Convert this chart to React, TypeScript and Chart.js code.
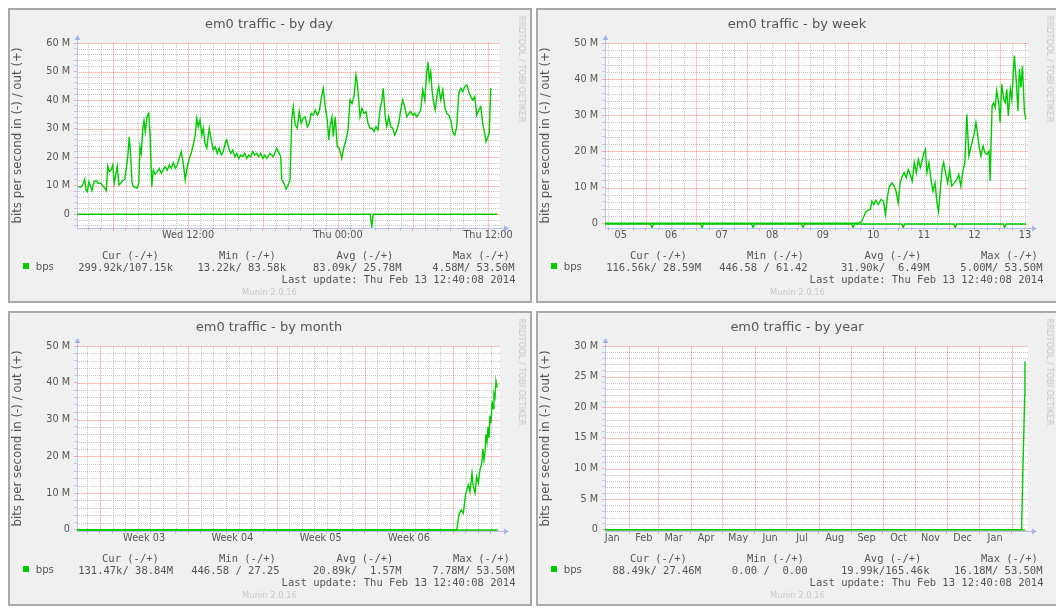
import React, { useEffect, useRef } from 'react';
import { Chart, registerables } from 'chart.js';

Chart.register(...registerables);
Chart.defaults.font.family = '"DejaVu Sans", sans-serif';

type Pt = [number, number];

// ---------------- by day (x = hours since Wed 00:00, y = Mbit/s) ----------------
const dayOut: Pt[] = [
  [3.22, 9.6], [3.42, 9.4], [3.58, 10.2], [3.74, 12.2], [3.84, 8.4], [3.94, 7.8], [4.08, 11.3], [4.22, 9.6],
  [4.32, 8.2], [4.48, 11.3], [4.64, 11.7], [4.82, 10.8], [5.02, 10.8], [5.18, 9.9], [5.34, 9.1], [5.46, 8.2],
  [5.58, 16.8], [5.7, 14.9], [5.84, 15.4], [5.98, 17.2], [6.1, 10.8], [6.24, 14.3], [6.34, 16.8], [6.48, 10.2],
  [6.62, 10.8], [6.78, 11.7], [6.94, 12.2], [7.06, 16], [7.18, 20], [7.3, 27.1], [7.42, 20.1], [7.52, 11.3],
  [7.62, 9.6], [7.78, 9.4], [7.94, 9.1], [8.06, 10.8], [8.16, 23.6], [8.26, 21.3], [8.38, 29.5], [8.48, 32.7],
  [8.58, 28.9], [8.72, 34.1], [8.86, 35.3], [8.96, 28.3], [9.1, 9.6], [9.22, 15.4], [9.38, 14], [9.54, 14.9],
  [9.7, 16], [9.86, 14.3], [10.02, 15.6], [10.18, 16.6], [10.34, 15.4], [10.5, 17.2], [10.66, 16], [10.82, 18],
  [10.98, 16], [11.14, 17.2], [11.3, 19.5], [11.46, 21.9], [11.62, 17.8], [11.78, 11.9], [11.94, 16.6], [12.1, 19.5],
  [12.26, 21.3], [12.38, 23.6], [12.56, 27.1], [12.7, 33.6], [12.82, 30.6], [12.96, 33], [13.1, 27.7], [13.22, 30.1],
  [13.36, 24.8], [13.5, 23.1], [13.7, 30.1], [13.86, 26], [14.02, 22.5], [14.18, 23.6], [14.34, 21.3], [14.5, 23.1],
  [14.66, 20.7], [14.82, 21.9], [14.98, 24.8], [15.1, 26], [15.26, 23.1], [15.42, 21.3], [15.58, 22.5], [15.74, 20.1],
  [15.9, 21.3], [16.06, 19.5], [16.22, 20.7], [16.38, 20.1], [16.54, 21.3], [16.7, 19.5], [16.86, 20.7], [17.02, 20.1],
  [17.18, 21.9], [17.34, 20.7], [17.5, 21.3], [17.66, 20.1], [17.82, 21.3], [17.98, 19.5], [18.14, 20.7], [18.3, 19.5],
  [18.56, 21.3], [18.82, 20.1], [19.1, 23.1], [19.22, 21.9], [19.42, 20.1], [19.5, 11.9], [19.68, 10.8], [19.84, 8.7],
  [20.0, 10.2], [20.16, 11.9], [20.3, 33], [20.42, 37.6], [20.58, 31.2], [20.74, 30.1], [20.9, 35.9], [21.06, 31.8],
  [21.22, 33.6], [21.38, 34.1], [21.54, 30.6], [21.7, 31.8], [21.86, 35.3], [22.02, 34.7], [22.18, 36.5], [22.34, 34.7],
  [22.5, 35.9], [22.66, 40.6], [22.82, 44.1], [22.98, 37.6], [23.14, 33], [23.26, 26], [23.36, 30.6], [23.52, 34.1],
  [23.62, 27.1], [23.78, 34.1], [23.94, 23.6], [24.1, 23.1], [24.3, 19.5], [24.48, 23.6], [24.64, 26], [24.8, 29.5],
  [24.96, 40], [25.12, 38.8], [25.28, 41.2], [25.44, 48.8], [25.54, 45.9], [25.66, 40], [25.76, 34.1], [25.92, 37.1],
  [26.08, 35.3], [26.24, 35.9], [26.4, 31.8], [26.56, 30.1], [26.72, 30.1], [26.88, 28.9], [27.04, 30.6], [27.2, 29.5],
  [27.36, 36.5], [27.52, 40], [27.62, 44.1], [27.78, 34.1], [27.9, 30.6], [28.06, 34.1], [28.22, 30.6], [28.38, 30.1],
  [28.54, 27.7], [28.7, 29.5], [28.86, 31.8], [29.02, 36.5], [29.18, 40], [29.34, 37.6], [29.5, 34.1], [29.66, 35.3],
  [29.82, 35.9], [29.98, 34.7], [30.14, 35.3], [30.3, 34.1], [30.46, 35.3], [30.62, 36.5], [30.78, 43.5], [30.94, 40],
  [31.1, 49.9], [31.2, 53.4], [31.3, 47], [31.42, 49.9], [31.52, 43.5], [31.62, 40], [31.78, 36.5], [31.94, 42.3],
  [32.06, 44.7], [32.22, 40], [32.38, 43.5], [32.54, 37.6], [32.7, 35.3], [32.86, 34.7], [33.02, 33], [33.18, 28.9],
  [33.34, 27.7], [33.5, 30.6], [33.66, 42.3], [33.82, 44.1], [33.98, 42.9], [34.14, 44.7], [34.3, 45.3], [34.46, 42.9],
  [34.62, 41.2], [34.78, 40], [34.94, 41.2], [35.1, 34.7], [35.26, 36.5], [35.42, 37.6], [35.58, 31.8], [35.68, 29.5],
  [35.84, 25.4], [36.0, 27.1], [36.1, 28.3], [36.22, 44.1],
];
const dayIn: Pt[] = [[3.12, -0.1], [26.58, -0.1], [26.7, -4.5], [26.82, -0.1], [36.74, -0.1]];
const dayTickAt = [12, 24, 36];
const dayTickLabels = ['Wed 12:00', 'Thu 00:00', 'Thu 12:00'];
const dayMajorAt = [6, 12, 18, 24, 30, 36];

// ---------------- by week (x = day of Feb 2014) ----------------
const weekOut: Pt[] = [
  [5.19, 0.1], [10.2, 0.1], [10.27, 0.6], [10.34, 3.0], [10.38, 3.6], [10.44, 3.9], [10.47, 6.2], [10.51, 5.3],
  [10.55, 6.5], [10.6, 5.3], [10.65, 6.7], [10.7, 6.2], [10.74, 2.5], [10.78, 7.6], [10.82, 10.4], [10.87, 11.3],
  [10.91, 10.4], [10.95, 9], [10.99, 5.7], [11.03, 11.3], [11.07, 13.1], [11.11, 14.1], [11.15, 12.7], [11.19, 15],
  [11.23, 13.6], [11.27, 11.8], [11.31, 16.9], [11.35, 14.1], [11.39, 17.8], [11.43, 15.5], [11.47, 17.8], [11.5, 19.6],
  [11.53, 20.6], [11.56, 14.1], [11.6, 16.9], [11.64, 12.2], [11.68, 9], [11.72, 11.3], [11.76, 5.7], [11.79, 3.4],
  [11.82, 8.5], [11.86, 15], [11.89, 16.9], [11.93, 14.1], [11.97, 11.3], [12.01, 15], [12.05, 10.4], [12.1, 11.3],
  [12.15, 12.2], [12.19, 13.6], [12.23, 10.4], [12.27, 14.5], [12.31, 16.9], [12.35, 30.3], [12.39, 18.7], [12.45, 22.4],
  [12.5, 25.2], [12.53, 28], [12.56, 25.2], [12.59, 21.5], [12.63, 18.7], [12.67, 21.5], [12.71, 19.6], [12.75, 19.2],
  [12.79, 20.1], [12.81, 11.8], [12.85, 32.6], [12.88, 33.5], [12.91, 32.1], [12.94, 36.8], [12.98, 33.5], [13.01, 28],
  [13.04, 38.6], [13.08, 34.4], [13.11, 33.5], [13.14, 37.2], [13.17, 29.8], [13.21, 37.2], [13.24, 34.4], [13.27, 41.9],
  [13.29, 46.5], [13.33, 39.1], [13.36, 31.2], [13.39, 42.8], [13.42, 37.7], [13.45, 43.7], [13.49, 30.8], [13.52, 28.9],
];
const weekIn: Pt[] = [
  [5.19, -0.1], [6.09, -0.1], [6.12, -1.1], [6.15, -0.1], [7.08, -0.1], [7.11, -1.1], [7.14, -0.1],
  [8.09, -0.1], [8.12, -1.1], [8.15, -0.1], [9.08, -0.1], [9.11, -1.1], [9.14, -0.1], [10.07, -0.1],
  [10.1, -1.1], [10.13, -0.1], [11.06, -0.1], [11.09, -1.1], [11.12, -0.1], [12.09, -0.1], [12.12, -1.1],
  [12.15, -0.1], [13.07, -0.1], [13.1, -1.1], [13.13, -0.1], [13.52, -0.1],
];
const weekTickAt = [5.5, 6.5, 7.5, 8.5, 9.5, 10.5, 11.5, 12.5, 13.5];
const weekTickLabels = ['05', '06', '07', '08', '09', '10', '11', '12', '13'];
const weekMajorAt = [6, 7, 8, 9, 10, 11, 12, 13];

// ---------------- by month (x = days since Jan 1 2014) ----------------
const monthOut: Pt[] = [
  [10.18, 0.05], [40.29, 0.05], [40.49, 4.5], [40.65, 5.4], [40.81, 4.5], [40.97, 9.1], [41.08, 10.9], [41.21, 12.2],
  [41.34, 10.4], [41.5, 15.4], [41.6, 11.8], [41.74, 10], [41.87, 14.5], [42.0, 12.7], [42.13, 16.3], [42.27, 18.1],
  [42.37, 22], [42.45, 19], [42.53, 21], [42.61, 26], [42.69, 24], [42.77, 28], [42.85, 25], [42.93, 31],
  [43.01, 29], [43.09, 35], [43.17, 33], [43.24, 37], [43.32, 36], [43.4, 40.5], [43.48, 39], [43.53, 38.8],
];
const monthIn: Pt[] = [[10.18, -0.03], [43.53, -0.03]];
const monthTickAt = [15.5, 22.5, 29.5, 36.5];
const monthTickLabels = ['Week 03', 'Week 04', 'Week 05', 'Week 06'];
const monthMajorAt = [12, 19, 26, 33, 40];

// ---------------- by year (x = days since Jan 1 2013) ----------------
const yearOut: Pt[] = [[8.1, 0.02], [405.3, 0.05], [406.3, 8], [407.3, 15], [408.3, 22], [408.5, 27.46]];
const yearIn: Pt[] = [[8.1, -0.02], [408.5, -0.02]];
const yearMajorAt = [31, 59, 90, 120, 151, 181, 212, 243, 273, 304, 334, 365, 396];
const yearTickAt = [15, 45, 73.5, 104.5, 135, 165.5, 196, 227, 257.5, 288, 318.5, 349, 380];
const yearTickLabels = ['Jan', 'Feb', 'Mar', 'Apr', 'May', 'Jun', 'Jul', 'Aug', 'Sep', 'Oct', 'Nov', 'Dec', 'Jan'];

// ---------------- legends ----------------
const legendHeaders = ['Cur (-/+)', 'Min (-/+)', 'Avg (-/+)', 'Max (-/+)'];
const dayLegend = ['299.92k/107.15k', '13.22k/ 83.58k', '83.09k/ 25.78M', '4.58M/ 53.50M'];
const weekLegend = ['116.56k/ 28.59M', '446.58 / 61.42 ', '31.90k/  6.49M', '5.00M/ 53.50M'];
const monthLegend = ['131.47k/ 38.84M', '446.58 / 27.25 ', '20.89k/  1.57M', '7.78M/ 53.50M'];
const yearLegend = ['88.49k/ 27.46M', '0.00 /  0.00 ', '19.99k/165.46k', '16.18M/ 53.50M'];
const lastUpdate = 'Last update: Thu Feb 13 12:40:08 2014';

const GREEN = '#00cc00';
const RED = 'rgba(255, 0, 0, 0.24)';
const GREY = 'rgba(150, 150, 150, 0.55)';
const RED_TICK = 'rgba(255, 40, 40, 0.35)';
const GREY_TICK = 'rgba(150, 150, 150, 0.45)';
const NONE = 'rgba(0,0,0,0)';
const AXIS = 'rgba(120, 135, 235, 0.45)';
const ARROW = 'rgba(110, 130, 240, 0.55)';
const TEXT = '#555';

interface PanelSpec {
  title: string;
  width: number;
  xMin: number;
  xMax: number;
  xMinor: number[];
  xMajor: number[];
  xLabelAt: number[];
  xLabels: string[];
  yMin: number;
  yMax: number;
  yMinorStep: number;
  yMajorStep: number;
  out: Pt[];
  inn: Pt[];
  legend: string[];
}

function steps(from: number, to: number, step: number): number[] {
  const res: number[] = [];
  const n = Math.round((to - from) / step);
  for (let i = 0; i <= n; i++) res.push(+(from + i * step).toFixed(4));
  return res;
}

const key = (v: number) => v.toFixed(3);

function buildChart(canvas: HTMLCanvasElement, s: PanelSpec) {
  const xKind = new Map<string, string>();
  s.xLabelAt.forEach((v) => xKind.set(key(v), 'label'));
  s.xMinor.forEach((v) => xKind.set(key(v), 'minor'));
  s.xMajor.forEach((v) => xKind.set(key(v), 'major'));
  const xLabel = new Map<string, string>();
  s.xLabelAt.forEach((v, i) => xLabel.set(key(v), s.xLabels[i]));
  const xTicks = Array.from(new Set([...s.xMinor, ...s.xMajor, ...s.xLabelAt]))
    .filter((v) => v >= s.xMin && v <= s.xMax)
    .sort((a, b) => a - b);

  const yTicks = steps(Math.ceil(s.yMin / s.yMinorStep) * s.yMinorStep, s.yMax, s.yMinorStep);
  const isYMajor = (v: number) => Math.abs(v / s.yMajorStep - Math.round(v / s.yMajorStep)) < 1e-6;
  const xKindOf = (v: number) => xKind.get(key(v));

  const xTickColor = (c: any) => {
    const k = c.tick ? xKindOf(c.tick.value) : undefined;
    return k === 'major' ? RED_TICK : k === 'minor' ? GREY_TICK : NONE;
  };
  const yTickColor = (c: any) => (c.tick ? (isYMajor(c.tick.value) ? RED_TICK : GREY_TICK) : NONE);

  const frame = {
    id: 'muninFrame',
    beforeDraw(chart: any) {
      const { ctx, chartArea: a } = chart;
      ctx.save();
      ctx.fillStyle = '#ffffff';
      ctx.fillRect(a.left, a.top, a.right - a.left, a.bottom - a.top);
      ctx.restore();
    },
    beforeDatasetsDraw(chart: any) {
      const { ctx, chartArea: a, scales } = chart;
      const sx = scales.x;
      const sy = scales.y;
      ctx.save();
      ctx.lineWidth = 1;
      // minor grid: dotted grey
      ctx.setLineDash([1, 1]);
      ctx.strokeStyle = GREY;
      ctx.beginPath();
      for (const t of sx.ticks) {
        if (xKindOf(t.value) !== 'minor') continue;
        const px = Math.round(sx.getPixelForValue(t.value)) + 0.5;
        ctx.moveTo(px, a.top);
        ctx.lineTo(px, a.bottom);
      }
      for (const t of sy.ticks) {
        if (isYMajor(t.value)) continue;
        const py = Math.round(sy.getPixelForValue(t.value)) + 0.5;
        ctx.moveTo(a.left, py);
        ctx.lineTo(a.right, py);
      }
      ctx.stroke();
      // major grid: light red
      ctx.setLineDash([]);
      ctx.strokeStyle = RED;
      ctx.beginPath();
      for (const t of sx.ticks) {
        if (xKindOf(t.value) !== 'major') continue;
        const px = Math.round(sx.getPixelForValue(t.value)) + 0.5;
        ctx.moveTo(px, a.top);
        ctx.lineTo(px, a.bottom);
      }
      for (const t of sy.ticks) {
        if (!isYMajor(t.value)) continue;
        const py = Math.round(sy.getPixelForValue(t.value)) + 0.5;
        ctx.moveTo(a.left, py);
        ctx.lineTo(a.right, py);
      }
      ctx.stroke();
      // axes with arrows
      const l = Math.round(a.left) + 0.5;
      const b = Math.round(a.bottom) + 0.5;
      ctx.strokeStyle = AXIS;
      ctx.beginPath();
      ctx.moveTo(l, b);
      ctx.lineTo(l, a.top - 4);
      ctx.moveTo(l, b);
      ctx.lineTo(a.right + 4, b);
      ctx.stroke();
      ctx.fillStyle = ARROW;
      ctx.beginPath();
      ctx.moveTo(l, a.top - 8);
      ctx.lineTo(l - 3, a.top - 3);
      ctx.lineTo(l + 3, a.top - 3);
      ctx.closePath();
      ctx.fill();
      ctx.beginPath();
      ctx.moveTo(a.right + 9, b);
      ctx.lineTo(a.right + 4, b - 3);
      ctx.lineTo(a.right + 4, b + 3);
      ctx.closePath();
      ctx.fill();
      ctx.restore();
    },
  };

  const line = (pts: Pt[]) => ({
    data: pts.map(([x, y]) => ({ x, y })),
    borderColor: GREEN,
    backgroundColor: GREEN,
    borderWidth: 1.4,
    pointRadius: 0,
    tension: 0,
    fill: false,
  });

  return new Chart(canvas, {
    type: 'line',
    data: { datasets: [line(s.out), line(s.inn)] as any },
    options: {
      animation: false,
      responsive: false,
      events: [],
      layout: { padding: { left: 0, top: 35, right: s.width - 492, bottom: 0 } },
      plugins: { legend: { display: false }, tooltip: { enabled: false }, title: { display: false } },
      scales: {
        x: {
          type: 'linear',
          min: s.xMin,
          max: s.xMax,
          bounds: 'data',
          afterBuildTicks: (sc: any) => {
            sc.ticks = xTicks.map((v) => ({ value: v }));
          },
          afterFit: (sc: any) => {
            sc.height = 75;
          },
          grid: { drawOnChartArea: false, tickColor: xTickColor, tickLength: 3, drawTicks: true },
          border: { display: false },
          ticks: {
            autoSkip: false,
            maxRotation: 0,
            minRotation: 0,
            padding: 0,
            color: TEXT,
            font: { family: '"DejaVu Sans", sans-serif', size: 9.7, lineHeight: 1 },
            callback: (v: any) => xLabel.get(key(Number(v))) ?? '',
          },
        },
        y: {
          type: 'linear',
          min: s.yMin,
          max: s.yMax,
          bounds: 'data',
          afterBuildTicks: (sc: any) => {
            sc.ticks = yTicks.map((v) => ({ value: v }));
          },
          afterFit: (sc: any) => {
            sc.width = 69;
          },
          grid: { drawOnChartArea: false, tickColor: yTickColor, tickLength: 3, drawTicks: true },
          border: { display: false },
          ticks: {
            autoSkip: false,
            padding: 4,
            color: TEXT,
            font: { family: '"DejaVu Sans", sans-serif', size: 9.7 },
            callback: (v: any) => {
              const n = Number(v);
              if (!isYMajor(n) || n < 0) return '';
              return n === 0 ? '0' : `${Math.round(n)} M`;
            },
          },
          title: {
            display: true,
            text: 'bits per second in (-) / out (+)',
            color: TEXT,
            font: { family: '"DejaVu Sans", sans-serif', size: 11.8 },
            padding: { top: 3, bottom: 0 },
          },
        },
      },
    } as any,
    plugins: [frame],
  });
}

const daySpec: PanelSpec = {
  title: 'em0 traffic - by day', width: 524, xMin: 3.12, xMax: 36.96,
  xMinor: steps(4, 36, 1), xMajor: dayMajorAt, xLabelAt: dayTickAt, xLabels: dayTickLabels,
  yMin: -4.9, yMax: 60, yMinorStep: 2, yMajorStep: 10, out: dayOut, inn: dayIn, legend: dayLegend,
};
const weekSpec: PanelSpec = {
  title: 'em0 traffic - by week', width: 522, xMin: 5.19, xMax: 13.56,
  xMinor: steps(5.25, 13.5, 0.25), xMajor: weekMajorAt, xLabelAt: weekTickAt, xLabels: weekTickLabels,
  yMin: -1.2, yMax: 50, yMinorStep: 2, yMajorStep: 10, out: weekOut, inn: weekIn, legend: weekLegend,
};
const monthSpec: PanelSpec = {
  title: 'em0 traffic - by month', width: 524, xMin: 10.18, xMax: 43.72,
  xMinor: steps(11, 43, 1), xMajor: monthMajorAt, xLabelAt: monthTickAt, xLabels: monthTickLabels,
  yMin: -0.3, yMax: 50, yMinorStep: 2, yMajorStep: 10, out: monthOut, inn: monthIn, legend: monthLegend,
};
const yearSpec: PanelSpec = {
  title: 'em0 traffic - by year', width: 522, xMin: 8.1, xMax: 411.4,
  xMinor: [], xMajor: yearMajorAt, xLabelAt: yearTickAt, xLabels: yearTickLabels,
  yMin: -0.2, yMax: 30, yMinorStep: 1, yMajorStep: 5, out: yearOut, inn: yearIn, legend: yearLegend,
};

const headerLeft = [94, 211, 328.5, 445];
const valueRight = [165, 278, 393.5, 506.5];

function Panel({ spec, left, top }: { spec: PanelSpec; left: number; top: number }) {
  const ref = useRef<HTMLCanvasElement>(null);
  useEffect(() => {
    const chart = buildChart(ref.current as HTMLCanvasElement, spec);
    return () => chart.destroy();
  }, [spec]);

  const mono: React.CSSProperties = {
    position: 'absolute',
    fontFamily: '"DejaVu Sans Mono", monospace',
    fontSize: '10.5px',
    lineHeight: '12px',
    color: TEXT,
    whiteSpace: 'pre',
  };

  return (
    <div style={{ position: 'absolute', left, top, width: spec.width, height: 295, background: '#f0f0f0' }}>
      <canvas
        ref={ref}
        width={spec.width}
        height={295}
        style={{ position: 'absolute', left: 0, top: 0, width: spec.width, height: 295 }}
      />
      <div
        style={{
          position: 'absolute', left: 61, width: 400, top: 8, textAlign: 'center',
          fontFamily: '"DejaVu Sans", sans-serif', fontSize: '13px', lineHeight: '16px', color: TEXT,
        }}
      >
        {spec.title}
      </div>
      <div
        style={{
          position: 'absolute', left: 513.7, top: 60.5, transform: 'translate(-50%, -50%) rotate(90deg)',
          fontFamily: '"DejaVu Sans", sans-serif', fontSize: '8.3px', lineHeight: '10px', color: '#c4c4c4', whiteSpace: 'nowrap',
        }}
      >
        RRDTOOL / TOBI OETIKER
      </div>
      {legendHeaders.map((h, i) => (
        <div key={h} style={{ ...mono, left: headerLeft[i], top: 240.5 }}>{h}</div>
      ))}
      <div style={{ position: 'absolute', left: 14.7, top: 255.3, width: 6, height: 6, background: GREEN }} />
      <div
        style={{
          position: 'absolute', left: 27.7, top: 252.7, fontFamily: '"DejaVu Sans", sans-serif',
          fontSize: '10.2px', lineHeight: '12px', color: TEXT,
        }}
      >
        bps
      </div>
      {spec.legend.map((v, i) => (
        <div key={i} style={{ ...mono, left: valueRight[i] - 200, width: 200, textAlign: 'right', top: 252.7 }}>{v}</div>
      ))}
      <div style={{ ...mono, left: 507.5 - 300, width: 300, textAlign: 'right', top: 265 }}>{lastUpdate}</div>
      <div
        style={{
          position: 'absolute', left: 161.5, width: 200, top: 278.7, textAlign: 'center',
          fontFamily: '"DejaVu Sans", sans-serif', fontSize: '8.4px', lineHeight: '10px', color: '#c8c8c8',
        }}
      >
        Munin 2.0.16
      </div>
      <div
        style={{
          position: 'absolute', left: 0, top: 0, width: spec.width, height: 295,
          border: '2px solid #a9a9a9', boxSizing: 'border-box', pointerEvents: 'none',
        }}
      />
    </div>
  );
}

export default function App() {
  return (
    <div style={{ position: 'relative', width: 1050, height: 598 }}>
      <Panel spec={daySpec} left={0} top={0} />
      <Panel spec={weekSpec} left={528} top={0} />
      <Panel spec={monthSpec} left={0} top={303} />
      <Panel spec={yearSpec} left={528} top={303} />
    </div>
  );
}
